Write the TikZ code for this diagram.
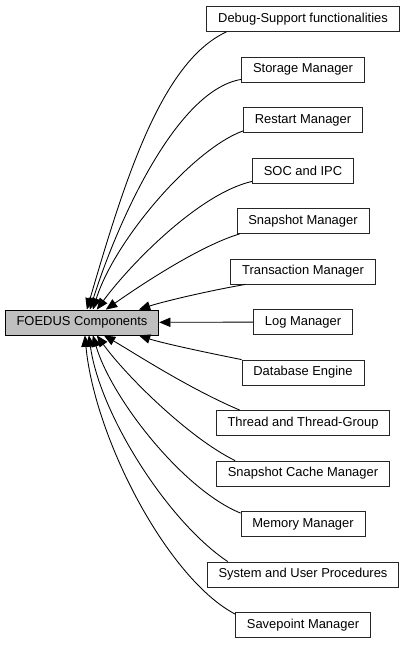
\documentclass[tikz,border=0pt]{standalone}
\usepackage{fontspec}
\setsansfont{Liberation Sans}
\usetikzlibrary{arrows.meta,calc}
\begin{document}
\begin{tikzpicture}[x=0.75pt,y=-0.75pt,font=\sffamily\fontsize{9.7}{11}\selectfont]
     \tikzstyle{comp}=[draw=black!85, line width=0.6pt, fill=white, inner xsep=8.5pt, inner ysep=0pt, minimum height=18.75pt]
     \tikzstyle{mainnode}=[comp, fill=black!25, draw=black]
     \tikzstyle{dep}=[draw, line width=0.65pt, -{Triangle[length=8.5pt,width=7pt]}]
     \useasboundingbox (0,0) rectangle (405,645);
     % group itself
     \node[mainnode] (foedus) at (82,322.5) {FOEDUS Components};
     % sub groups
     \node[comp] (dbg) at (303,19) {Debug-Support functionalities};
     \node[comp] (stor) at (303,69.5) {Storage Manager};
     \node[comp] (rst) at (303,120) {Restart Manager};
     \node[comp] (soc) at (303,170.5) {SOC and IPC};
     \node[comp] (snap) at (303,221) {Snapshot Manager};
     \node[comp] (trans) at (303,271.5) {Transaction Manager};
     \node[comp] (log) at (303,322) {Log Manager};
     \node[comp] (db) at (303,372.5) {Database Engine};
     \node[comp] (thr) at (303,423) {Thread and Thread-Group};
     \node[comp] (sc) at (303,473.5) {Snapshot Cache Manager};
     \node[comp] (mem) at (303,524) {Memory Manager};
     \node[comp] (sys) at (303,574.5) {System and User Procedures};
     \node[comp] (sav) at (303,625) {Savepoint Manager};
     % edges above
     \draw[dep] ($(dbg.south west)+(20,0)$) .. controls +(-65,30) and +(38,-130) .. ($(foedus.north west)+(82,0)$);
     \draw[dep] ($(stor.south west)+(0,-3)$) .. controls +(-67,11) and +(25,-80) .. ($(foedus.north west)+(85,0)$);
     \draw[dep] ($(rst.south west)+(0,-2)$) .. controls +(-50,18) and +(22,-70) .. ($(foedus.north west)+(88,0)$);
     \draw[dep] ($(soc.south west)+(0,-2)$) .. controls +(-53,12) and +(33,-45) .. ($(foedus.north west)+(92,0)$);
     \draw[dep] ($(snap.south west)+(3,0)$) .. controls +(-40,12) and +(34,-24) .. ($(foedus.north west)+(101,0)$);
     \draw[dep] ($(trans.south west)+(15,0)$) .. controls +(-45,8) and +(21,-7) .. ($(foedus.north west)+(134,0)$);
     \draw[dep] (log) -- (foedus);
     % edges below
     \draw[dep] (db.north west) .. controls +(-45,-9) and +(21,7) .. ($(foedus.south west)+(134,0)$);
     \draw[dep] ($(thr.north west)+(24,0)$) .. controls +(-52,-22) and +(28,16) .. ($(foedus.south west)+(99,0)$);
     \draw[dep] ($(sc.north west)+(19,0)$) .. controls +(-47,-23) and +(28,39) .. ($(foedus.south west)+(92,0)$);
     \draw[dep] ($(mem.north west)+(0,2)$) .. controls +(-57,-23) and +(19,64) .. ($(foedus.south west)+(88,0)$);
     \draw[dep] ($(sys.north west)+(21,0)$) .. controls +(-60,-40) and +(11,79) .. ($(foedus.south west)+(84,0)$);
     \draw[dep] ($(sav.north west)+(0,2)$) .. controls +(-67,-35) and +(10,104) .. ($(foedus.south west)+(80,0)$);
\end{tikzpicture}
\end{document}
